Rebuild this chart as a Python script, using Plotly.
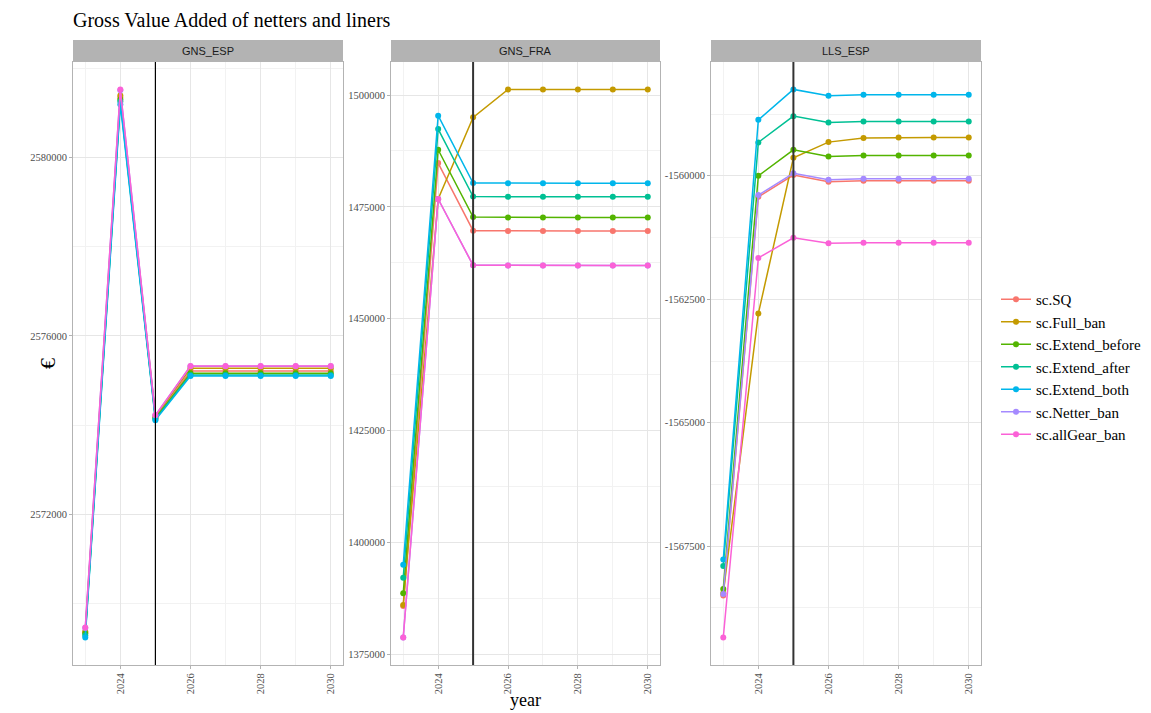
import plotly.graph_objects as go

years = [2023, 2024, 2025, 2026, 2027, 2028, 2029, 2030]
policy_year = 2025
scenarios = ["sc.SQ", "sc.Full_ban", "sc.Extend_before", "sc.Extend_after",
             "sc.Extend_both", "sc.Netter_ban", "sc.allGear_ban"]
colors = ["#F8766D", "#C49A00", "#53B400", "#00C094", "#00B6EB", "#A58AFF", "#FB61D7"]
panels = ["GNS_ESP", "GNS_FRA", "LLS_ESP"]

gns_esp = {
    "sc.SQ":            [2569348, 2581348, 2574180, 2575213, 2575213, 2575213, 2575213, 2575213],
    "sc.Full_ban":      [2569371, 2581393, 2574202, 2575274, 2575274, 2575274, 2575274, 2575274],
    "sc.Extend_before": [2569326, 2581303, 2574157, 2575162, 2575162, 2575162, 2575162, 2575162],
    "sc.Extend_after":  [2569281, 2581258, 2574135, 2575124, 2575124, 2575124, 2575124, 2575124],
    "sc.Extend_both":   [2569236, 2581191, 2574112, 2575101, 2575101, 2575101, 2575101, 2575101],
    "sc.Netter_ban":    [2569450, 2581510, 2574220, 2575320, 2575320, 2575320, 2575320, 2575320],
    "sc.allGear_ban":   [2569461, 2581528, 2574225, 2575326, 2575326, 2575326, 2575326, 2575326],
}
gns_fra = {
    "sc.SQ":            [1385770, 1484792, 1469675, 1469600, 1469600, 1469600, 1469600, 1469600],
    "sc.Full_ban":      [1386000, 1476766, 1495018, 1501270, 1501270, 1501270, 1501270, 1501270],
    "sc.Extend_before": [1388607, 1487780, 1472727, 1472650, 1472650, 1472650, 1472650, 1472650],
    "sc.Extend_after":  [1392092, 1492404, 1477303, 1477250, 1477250, 1477250, 1477250, 1477250],
    "sc.Extend_both":   [1394996, 1495398, 1480341, 1480266, 1480266, 1480266, 1480266, 1480266],
    "sc.Netter_ban":    [1378690, 1476766, 1461944, 1461900, 1461900, 1461900, 1461900, 1461900],
    "sc.allGear_ban":   [1378690, 1476766, 1461944, 1461900, 1461900, 1461900, 1461900, 1461900],
}
lls_esp = {
    "sc.SQ":            [-1568499, -1560425, -1559986, -1560121, -1560101, -1560101, -1560101, -1560101],
    "sc.Full_ban":      [-1568450, -1562789, -1559636, -1559318, -1559237, -1559223, -1559223, -1559223],
    "sc.Extend_before": [-1568364, -1560000, -1559474, -1559607, -1559587, -1559587, -1559587, -1559587],
    "sc.Extend_after":  [-1567899, -1559324, -1558792, -1558919, -1558899, -1558899, -1558899, -1558899],
    "sc.Extend_both":   [-1567771, -1558867, -1558251, -1558381, -1558361, -1558361, -1558361, -1558361],
    "sc.Netter_ban":    [-1568465, -1560391, -1559951, -1560081, -1560061, -1560061, -1560061, -1560061],
    "sc.allGear_ban":   [-1569350, -1561663, -1561255, -1561368, -1561356, -1561356, -1561356, -1561356],
}
panel_data = [gns_esp, gns_fra, lls_esp]
y_ticks = [
    [2572000, 2576000, 2580000],
    [1375000, 1400000, 1425000, 1450000, 1475000, 1500000],
    [-1567500, -1565000, -1562500, -1560000],
]
y_minor = [2000, 12500, 1250]
x_ticks = [2024, 2026, 2028, 2030]

W, H = 1151, 713
px_x = [(73, 343), (391, 660), (711, 981)]
px_y = (62, 665)
strip_top = 40

serif = "Liberation Serif, Times New Roman, serif"
sans = "Liberation Sans, Arial, sans-serif"

fig = go.Figure()
layout = {}
shapes = []
annotations = []

def expand(lo, hi, f=0.05):
    d = (hi - lo) * f
    return [lo - d, hi + d]

for i, (name, data) in enumerate(zip(panels, panel_data)):
    sfx = "" if i == 0 else str(i + 1)
    for s, c in zip(scenarios, colors):
        fig.add_trace(go.Scatter(
            x=years, y=data[s], mode="lines+markers", name=s,
            line=dict(color=c, width=1.5), marker=dict(color=c, size=6),
            xaxis="x" + sfx, yaxis="y" + sfx, showlegend=(i == 0), legendgroup=s,
        ))
    allv = [v for s in scenarios for v in data[s]]
    yr = expand(min(allv), max(allv))
    xr = expand(min(years), max(years))
    x0, x1 = px_x[i]
    layout["xaxis" + sfx] = dict(
        domain=[x0 / W, x1 / W], range=xr, anchor="y" + sfx,
        tickvals=x_ticks, ticktext=[str(t) for t in x_ticks], tickangle=-90,
        tickfont=dict(family=serif, size=10.5, color="#4d4d4d"),
        showgrid=True, gridcolor="#e6e6e6", gridwidth=0.8,
        minor=dict(dtick=1, tick0=2023, showgrid=True, gridcolor="#f2f2f2", gridwidth=0.6),
        showline=True, linecolor="#b3b3b3", linewidth=1, mirror=True,
        ticks="outside", ticklen=3, tickcolor="#b3b3b3", zeroline=False,
    )
    layout["yaxis" + sfx] = dict(
        domain=[1 - px_y[1] / H, 1 - px_y[0] / H], range=yr, anchor="x" + sfx,
        tickvals=y_ticks[i], ticktext=[str(t) for t in y_ticks[i]],
        tickfont=dict(family=serif, size=10.5, color="#4d4d4d"),
        showgrid=True, gridcolor="#e6e6e6", gridwidth=0.8,
        minor=dict(dtick=y_minor[i], tick0=y_ticks[i][0], showgrid=True, gridcolor="#f2f2f2", gridwidth=0.6),
        showline=True, linecolor="#b3b3b3", linewidth=1, mirror=True,
        ticks="outside", ticklen=3, tickcolor="#b3b3b3", zeroline=False,
    )
    # facet strip
    shapes.append(dict(type="rect", xref="paper", yref="paper",
                       x0=x0 / W, x1=x1 / W, y0=1 - px_y[0] / H, y1=1 - strip_top / H,
                       fillcolor="#b3b3b3", line=dict(width=0), layer="above"))
    annotations.append(dict(text=name, xref="paper", yref="paper",
                            x=(x0 + x1) / 2 / W, y=1 - (px_y[0] + strip_top) / 2 / H,
                            showarrow=False, xanchor="center", yanchor="middle",
                            font=dict(family=sans, size=11, color="#1a1a1a")))
    # policy line
    shapes.append(dict(type="line", xref="x" + sfx, yref="paper",
                       x0=policy_year, x1=policy_year,
                       y0=1 - px_y[1] / H, y1=1 - px_y[0] / H,
                       line=dict(color="#000000" if i == 0 else "#333333", width=1.2 if i == 0 else 2)))

annotations.append(dict(text="year", xref="paper", yref="paper",
                        x=(px_x[1][0] + px_x[1][1]) / 2 / W, y=1 - 712 / H,
                        showarrow=False, xanchor="center", yanchor="bottom",
                        font=dict(family=serif, size=18, color="#000000")))
annotations.append(dict(text="€", xref="paper", yref="paper",
                        x=47 / W, y=1 - 364 / H, textangle=-90,
                        showarrow=False, xanchor="center", yanchor="middle",
                        font=dict(family=serif, size=22, color="#000000")))

fig.update_layout(
    **layout,
    width=W, height=H,
    margin=dict(l=0, r=0, t=0, b=0),
    paper_bgcolor="white", plot_bgcolor="white",
    title=dict(text="Gross Value Added of netters and liners",
               x=73 / W, xanchor="left", y=1 - 20 / H, yanchor="middle",
               font=dict(family=serif, size=20, color="#000000")),
    shapes=shapes, annotations=annotations,
    legend=dict(x=996 / W, xanchor="left", y=1 - 367 / H, yanchor="middle",
                font=dict(family=serif, size=15, color="#000000"),
                itemwidth=30, tracegroupgap=0, bgcolor="rgba(0,0,0,0)"),
    showlegend=True,
)

fig.write_html("out.html")
